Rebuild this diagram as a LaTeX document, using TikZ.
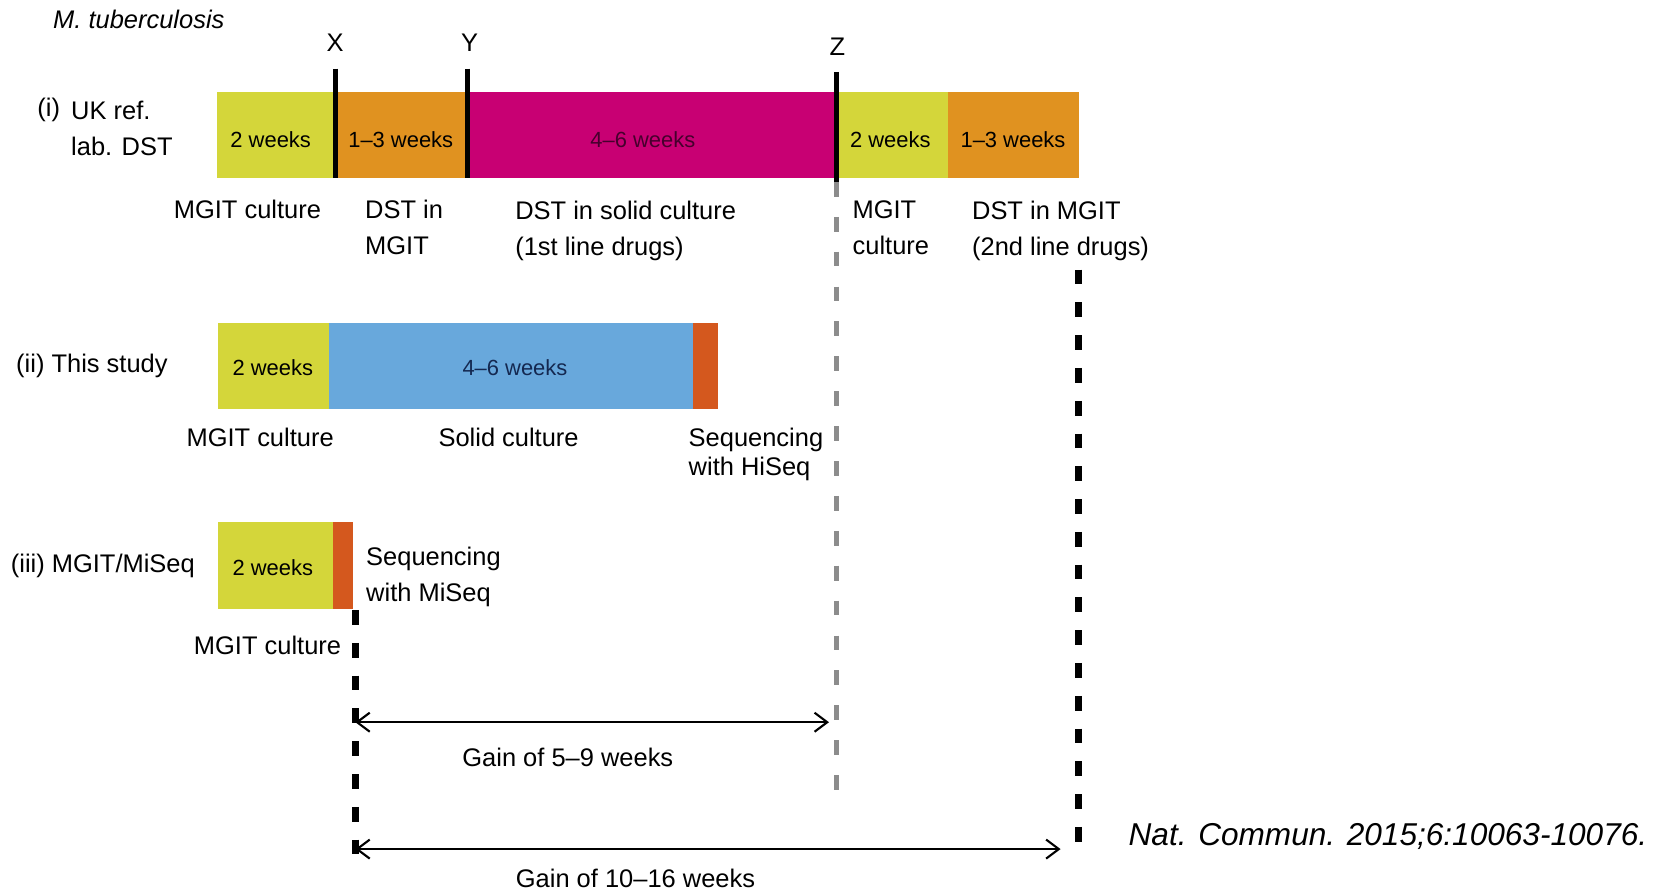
\documentclass[tikz,border=0pt]{standalone}
\usepackage{fontspec}
\setmainfont{Liberation Sans}
\usetikzlibrary{arrows.meta}

\definecolor{mgitcol}{RGB}{212,214,58}
\definecolor{dstcol}{RGB}{224,146,32}
\definecolor{solidcol}{RGB}{200,0,115}
\definecolor{bluecol}{RGB}{104,168,220}
\definecolor{seqcol}{RGB}{212,88,30}
\definecolor{zcol}{RGB}{140,140,140}

\tikzset{
  weeks/.style={font=\fontsize{11.8}{14}\selectfont, inner sep=0pt},
  lbl/.style={font=\fontsize{13.7}{19.4}\selectfont, inner sep=0pt, align=left},
  marker/.style={line width=0.95mm},
  gainline/.style={line width=0.4mm, {Straight Barb[length=2.4mm,width=3.6mm]}-{Straight Barb[length=2.4mm,width=3.6mm]}},
  zdash/.style={zcol, line width=1.1mm, dash pattern=on 2.8mm off 3.8mm},
  enddash/.style={black, line width=1.4mm, dash pattern=on 2.8mm off 3.4mm}
}

\begin{document}
\begin{tikzpicture}[x=0.2mm, y=-0.2mm]
	\useasboundingbox (0,0) rectangle (1568,843);

		% Полоса (i)
		\fill[mgitcol] (205,87) rectangle (317,168);
		\fill[dstcol] (317,87) rectangle (442,168);
		\fill[solidcol] (442,87) rectangle (791,168);
		\fill[mgitcol] (791,87) rectangle (897,168);
		\fill[dstcol] (897,87) rectangle (1020,168);

		% Полоса (ii)
		\fill[mgitcol] (206,305) rectangle (311,387);
		\fill[bluecol] (311,305) rectangle (655,387);
		\fill[seqcol] (655,305) rectangle (679,387);

		% Полоса (iii)
		\fill[mgitcol] (206,494) rectangle (315,576);
		\fill[seqcol] (315,494) rectangle (334,576);

		% Пунктирные линии
		\draw[zdash] (791,172) -- (791,757);
		\draw[enddash] (1020,255) -- (1020,812);
		\draw[enddash] (336,577) -- (336,812);

		% Отметки X, Y, Z
		\draw[marker] (317,65) -- (317,168);
		\draw[marker] (442,65) -- (442,168);
		\draw[marker] (791,68) -- (791,172);

		% Выигрыш во времени
		\coordinate (gainA) at (336,683);
		\coordinate (gainB) at (784,683);
		\coordinate (gainC) at (336,803);
		\coordinate (gainD) at (1003,803);
		\draw[gainline] (gainA) -- (gainB);
		\draw[gainline] (gainC) -- (gainD);

	\begin{scope}[every node/.append style={lbl}]
		\node[anchor=west, font=\fontsize{13.7}{16}\selectfont\itshape] (species) at (50,18) {M. tuberculosis};
		\node (markX) at (317,40) {X};
		\node (markY) at (444,40) {Y};
		\node (markZ) at (792,44) {Z};

		\node[anchor=west] (rowone) at (35,104) {(i)};
		\node[anchor=west] (rowonename) at (67,121) {UK ref.\\lab. DST};
		\node[anchor=west] (rowtwo) at (15,346) {(ii) This study};
		\node[anchor=west] (rowthree) at (10,535) {(iii) MGIT/MiSeq};

		\node (mgitone) at (234,198) {MGIT culture};
		\node[anchor=west] (dstone) at (345,215) {DST in\\MGIT};
		\node[anchor=west] (solidone) at (487,218) {DST in solid culture\\(1st line drugs)};
		\node[anchor=west] (mgitonebis) at (806,215) {MGIT\\culture};
		\node[anchor=west] (dstonebis) at (919,218) {DST in MGIT\\(2nd line drugs)};

		\node (mgittwo) at (246,414) {MGIT culture};
		\node (solidtwo) at (481,414) {Solid culture};
		\node[anchor=west, font=\fontsize{13.7}{15.6}\selectfont] (seqtwo) at (651,430) {Sequencing\\with HiSeq};

		\node[anchor=west] (seqthree) at (346,546) {Sequencing\\with MiSeq};
		\node (mgitthree) at (253,610) {MGIT culture};

		\node (gainshort) at (537,716) {Gain of 5–9 weeks};
		\node (gainlong) at (601,831) {Gain of 10–16 weeks};

		\node[anchor=west, font=\fontsize{17}{20}\selectfont\itshape] (source) at (1067,791) {Nat. Commun. 2015;6:10063-10076.};
	\end{scope}

	\begin{scope}[every node/.append style={weeks}]
		\node (wkone) at (256,132) {2 weeks};
		\node (wktwo) at (379,132) {1–3 weeks};
		\node[text={rgb,255:red,70;green,0;blue,45}] (wkthree) at (608,132) {4–6 weeks};
		\node (wkfour) at (842,132) {2 weeks};
		\node (wkfive) at (958,132) {1–3 weeks};
		\node (wksix) at (258,348) {2 weeks};
		\node[text={rgb,255:red,20;green,40;blue,80}] (wkseven) at (487,348) {4–6 weeks};
		\node (wkeight) at (258,537) {2 weeks};
	\end{scope}
\end{tikzpicture}
\end{document}
